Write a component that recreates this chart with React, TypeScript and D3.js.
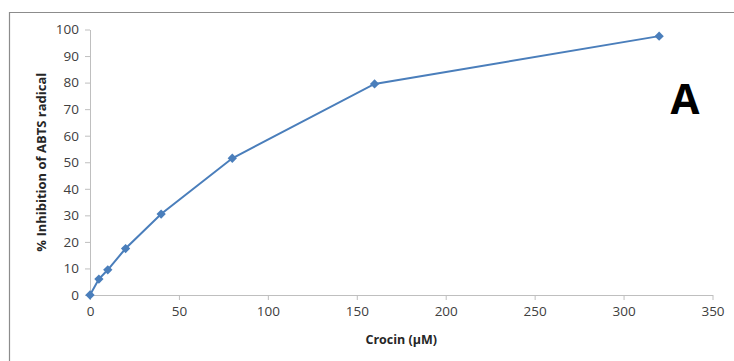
import * as d3 from "d3";
import { useEffect, useRef } from "react";

// Crocin concentration (µM) and % inhibition of ABTS radical
const concentrations = [0, 5, 10, 20, 40, 80, 160, 320];
const inhibition = [0, 6, 9.5, 17.5, 30.5, 51.5, 79.5, 97.5];
const xTicks = [0, 50, 100, 150, 200, 250, 300, 350];
const yTicks = [0, 10, 20, 30, 40, 50, 60, 70, 80, 90, 100];

const W = 734;
const H = 361;
const font = "'Open Sans', 'DejaVu Sans', sans-serif";

export default function App() {
  const svgRef = useRef<SVGSVGElement>(null);

  useEffect(() => {
    const svg = d3.select(svgRef.current);
    svg.selectAll("*").remove();

    const x = d3.scaleLinear().domain([0, 350]).range([90, 712.5]);
    const y = d3.scaleLinear().domain([0, 100]).range([295, 29.5]);

    // outer frame (top and left visible)
    svg
      .append("path")
      .attr("d", `M9.5,${H} L9.5,12.5 L${W},12.5`)
      .attr("fill", "none")
      .attr("stroke", "#8c8c8c")
      .attr("stroke-width", 1.2);

    const xAxis = d3
      .axisBottom(x)
      .tickValues(xTicks)
      .tickSize(5)
      .tickSizeOuter(0)
      .tickPadding(6);
    const yAxis = d3
      .axisLeft(y)
      .tickValues(yTicks)
      .tickSize(5)
      .tickSizeOuter(0)
      .tickPadding(6);

    const gx = svg
      .append("g")
      .attr("transform", `translate(0,${y(0)})`)
      .call(xAxis);
    const gy = svg
      .append("g")
      .attr("transform", `translate(${x(0)},0)`)
      .call(yAxis);

    [gx, gy].forEach((g) => {
      g.select(".domain").attr("stroke", "#bfbfbf");
      g.selectAll(".tick line").attr("stroke", "#bfbfbf");
      g.selectAll(".tick text")
        .attr("fill", "#404040")
        .style("font-family", font)
        .style("font-size", "13.5px");
    });

    const myLine = d3
      .line<number>()
      .x((d, i) => x(concentrations[i]))
      .y((d) => y(d));

    svg
      .append("path")
      .datum(inhibition)
      .attr("d", myLine)
      .attr("fill", "none")
      .attr("stroke", "#4a7ebb")
      .attr("stroke-width", 2);

    svg
      .selectAll(".pt")
      .data(inhibition)
      .join("path")
      .attr("class", "pt")
      .attr("d", d3.symbol(d3.symbolDiamond2, 55))
      .attr(
        "transform",
        (d, i) => `translate(${x(concentrations[i])},${y(d)})`
      )
      .attr("fill", "#4a7ebb");

    svg
      .append("text")
      .attr("x", (x(0) + x(350)) / 2)
      .attr("y", 344)
      .attr("text-anchor", "middle")
      .style("font-family", font)
      .style("font-size", "12.5px")
      .style("font-weight", "bold")
      .attr("fill", "#262626")
      .text("Crocin (µM)");

    svg
      .append("text")
      .attr("transform", `translate(46,${(y(0) + y(100)) / 2}) rotate(-90)`)
      .attr("text-anchor", "middle")
      .style("font-family", font)
      .style("font-size", "13px")
      .style("font-weight", "bold")
      .attr("fill", "#262626")
      .text("% Inhibition of ABTS radical");

    svg
      .append("text")
      .attr("x", 685)
      .attr("y", 114)
      .attr("text-anchor", "middle")
      .style("font-family", font)
      .style("font-size", "42px")
      .style("font-weight", "bold")
      .attr("fill", "#000")
      .text("A");
  }, []);

  return (
    <svg
      ref={svgRef}
      width={W}
      height={H}
      style={{ position: "absolute", left: 0, top: 0, background: "#fff" }}
    />
  );
}
